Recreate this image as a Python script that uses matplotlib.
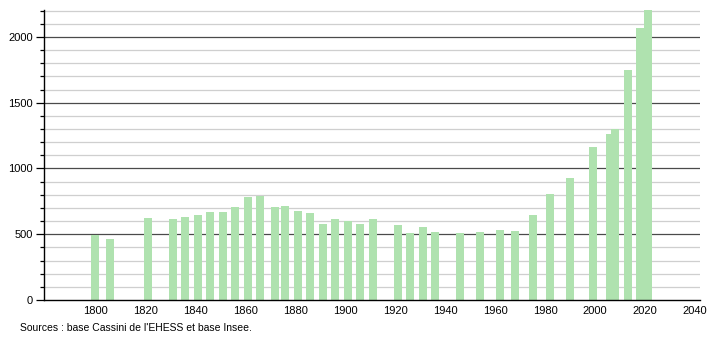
import numpy as np
import matplotlib
matplotlib.use("Agg")
import matplotlib.pyplot as plt
from matplotlib.ticker import MultipleLocator

plt.rcParams['font.family'] = ['Liberation Sans', 'DejaVu Sans']

# census years and population
years = [1800, 1806, 1821, 1831, 1836, 1841, 1846, 1851, 1856, 1861,
         1866, 1872, 1876, 1881, 1886, 1891, 1896, 1901, 1906, 1911,
         1921, 1926, 1931, 1936, 1946, 1954, 1962, 1968, 1975, 1982,
         1990, 1999, 2006, 2008, 2013, 2018, 2021]
population = [494, 461, 621, 614, 629, 646, 669, 669, 707, 786,
              794, 707, 717, 677, 662, 580, 614, 601, 580, 616,
              573, 512, 553, 520, 512, 520, 535, 525, 646, 806,
              928, 1163, 1262, 1298, 1749, 2066, 2203]
x_ticks = [1800, 1820, 1840, 1860, 1880, 1900, 1920, 1940, 1960, 1980, 2000, 2020, 2040]
y_ticks = [0, 500, 1000, 1500, 2000]
source_text = "Sources : base Cassini de l'EHESS et base Insee."

fig = plt.figure(figsize=(7.1, 3.4), dpi=100)
ax = fig.add_axes([0.062, 0.1176, 0.924, 0.853])

# light grid every 100, darker lines every 500
for v in range(100, 2300, 100):
    if v % 500 == 0:
        ax.axhline(v, color="#4a4a4a", lw=0.9, zorder=1)
    else:
        ax.axhline(v, color="#cfcfcf", lw=0.9, zorder=1)

ax.bar(years, population, width=3.2, color="#afe2af", edgecolor="none", zorder=2)

ax.set_xlim(1779.5, 2042)
ax.set_ylim(0, 2205)
ax.set_xticks(x_ticks)
ax.set_yticks(y_ticks)
ax.yaxis.set_minor_locator(MultipleLocator(100))
ax.tick_params(axis="x", length=0, labelsize=8, pad=4)
ax.tick_params(axis="y", which="major", length=6, width=0.9, labelsize=8, pad=2)
ax.tick_params(axis="y", which="minor", length=3, width=0.9)

for s in ["top", "right"]:
    ax.spines[s].set_visible(False)
ax.spines["left"].set_linewidth(1.0)
ax.spines["bottom"].set_linewidth(1.0)

fig.text(0.028, 0.035, source_text, fontsize=7.5, ha="left", va="center")

fig.savefig("out.png", dpi=100)
